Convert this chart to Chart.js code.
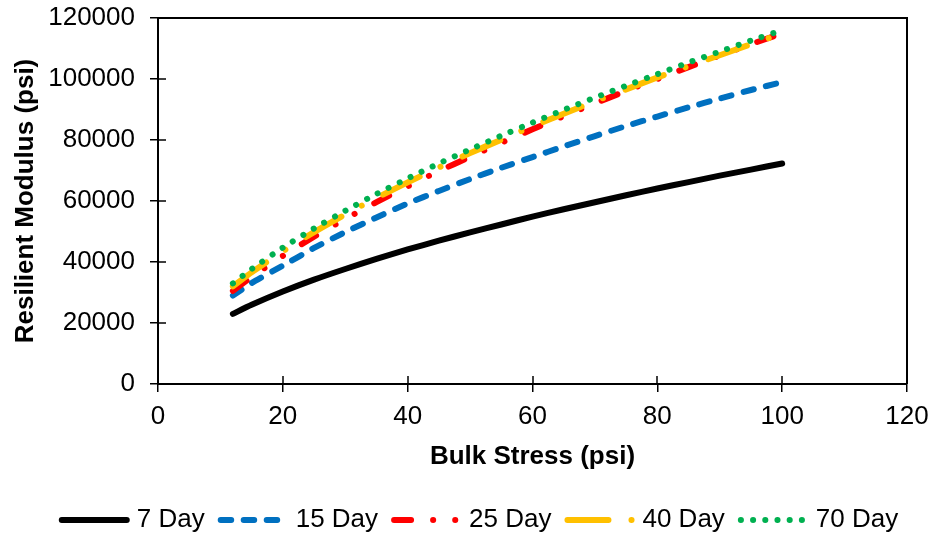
<!DOCTYPE html>
<html>
<head>
<meta charset="utf-8">
<script src="https://cdn.jsdelivr.net/npm/chart.js@4.4.1/dist/chart.umd.min.js"></script>
<style>
  html, body { margin: 0; padding: 0; background: #fff; }
  #wrap { width: 937px; height: 540px; }
</style>
</head>
<body>
<div id="wrap"><canvas id="chart"></canvas></div>
<script>
// bulk stress (psi) where the curves were read
const stress = [12, 15, 20, 25, 30, 35, 40, 45, 50, 55, 60, 65, 70, 75, 80, 85, 90, 95, 100];

// resilient modulus (psi)
const day7  = [23000, 25950, 30300, 34200, 37700, 41000, 44100, 47000, 49700, 52300, 54900, 57300, 59600, 61900, 64100, 66200, 68300, 70300, 72300];
const day15 = [29000, 33100, 38800, 44600, 49800, 54600, 59200, 63300, 67200, 70900, 74400, 77900, 81300, 84600, 87700, 90700, 93600, 96400, 99000];
const day25 = [30500, 35100, 42000, 48300, 54100, 59600, 64800, 69800, 74500, 79100, 83500, 87800, 92000, 96100, 100000, 103900, 107700, 111400, 115000];
const day40 = [32000, 36600, 43500, 49800, 55600, 61000, 66100, 71000, 75700, 80100, 84500, 88600, 92700, 96600, 100500, 104200, 107800, 111400, 114900];
const day70 = [33000, 37700, 44700, 51000, 56800, 62300, 67400, 72300, 76900, 81400, 85700, 89900, 93900, 97800, 101600, 105400, 109000, 112600, 116000];

const xTicks = [0, 20, 40, 60, 80, 100, 120];
const yTicks = [0, 20000, 40000, 60000, 80000, 100000, 120000];

const FONT = '"Liberation Sans", Arial, sans-serif';

function pts(ys) {
  return stress.map((x, i) => ({ x: x, y: ys[i] }));
}

function series(label, ys, color, dash, order) {
  return {
    label: label,
    data: pts(ys),
    borderColor: color,
    backgroundColor: color,
    borderWidth: 6,
    borderDash: dash,
    borderCapStyle: 'round',
    borderJoinStyle: 'round',
    pointRadius: 0,
    pointHoverRadius: 0,
    tension: 0.2,
    fill: false,
    order: order
  };
}

// Excel-like legend: line sample then text, centred under the chart
const legendRow = {
  id: 'legendRow',
  afterDraw(chart) {
    const ctx = chart.ctx;
    const sets = chart.data.datasets;
    const lineLen = 65, gapText = 10, gapItem = 16, y = 520;
    ctx.save();
    ctx.font = '26px ' + FONT;
    const widths = sets.map(d => ctx.measureText(d.label).width);
    const total = widths.reduce((s, w) => s + lineLen + gapText + w, 0) + gapItem * (sets.length - 1);
    let x = 480 - total / 2;
    sets.forEach((d, i) => {
      ctx.strokeStyle = d.borderColor;
      ctx.lineWidth = d.borderWidth;
      ctx.lineCap = 'round';
      ctx.setLineDash(d.borderDash);
      ctx.beginPath();
      ctx.moveTo(x, y);
      ctx.lineTo(x + lineLen, y);
      ctx.stroke();
      ctx.setLineDash([]);
      ctx.fillStyle = '#000';
      ctx.textAlign = 'left';
      ctx.textBaseline = 'middle';
      ctx.fillText(d.label, x + lineLen + gapText, y);
      x += lineLen + gapText + widths[i] + gapItem;
    });
    ctx.restore();
  }
};

// inner halves of the tick marks and the plot frame (top/right)
const frame = {
  id: 'frame',
  afterDraw(chart) {
    const { ctx, chartArea: a, scales: { x, y } } = chart;
    ctx.save();
    ctx.strokeStyle = '#000';
    ctx.lineWidth = 2;
    ctx.beginPath();
    ctx.moveTo(a.left, a.top);
    ctx.lineTo(a.right, a.top);
    ctx.lineTo(a.right, a.bottom);
    ctx.stroke();
    ctx.lineWidth = 1.5;
    ctx.beginPath();
    x.ticks.forEach(t => {
      const px = Math.round(x.getPixelForValue(t.value));
      ctx.moveTo(px, a.bottom);
      ctx.lineTo(px, a.bottom - 8);
    });
    y.ticks.forEach(t => {
      const py = Math.round(y.getPixelForValue(t.value));
      ctx.moveTo(a.left, py);
      ctx.lineTo(a.left + 8, py);
    });
    ctx.stroke();
    ctx.restore();
  }
};

new Chart(document.getElementById('chart'), {
  type: 'line',
  data: {
    datasets: [
      series('7 Day', day7, '#000000', [], 5),
      series('15 Day', day15, '#0070C0', [10.5, 12.5], 4),
      series('25 Day', day25, '#FF0000', [17, 22, 0.1, 22, 0.1, 22], 3),
      series('40 Day', day40, '#FFC000', [41, 23, 0.1, 24], 2),
      series('70 Day', day70, '#00B050', [0.1, 12.1], 1)
    ]
  },
  options: {
    responsive: true,
    maintainAspectRatio: false,
    animation: false,
    layout: { padding: { top: 18, right: 30, left: 0, bottom: 0 } },
    plugins: {
      tooltip: { enabled: false },
      legend: { display: false }
    },
    scales: {
      x: {
        type: 'linear',
        min: 0,
        max: 120,
        afterBuildTicks: s => { s.ticks = xTicks.map(v => ({ value: v })); },
        afterFit: s => { s.height = 156; s.paddingLeft = 0; s.paddingRight = 0; },
        border: { color: '#000', width: 2 },
        grid: { drawOnChartArea: false, drawTicks: true, tickLength: 8, color: '#000', lineWidth: 1.5 },
        ticks: { color: '#000', padding: 9, font: { family: FONT, size: 26 }, callback: v => String(v) },
        title: {
          display: true,
          text: 'Bulk Stress (psi)',
          color: '#000',
          font: { family: FONT, size: 26, weight: 'bold' },
          padding: { top: 0, bottom: 67.4 }
        }
      },
      y: {
        min: 0,
        max: 120000,
        afterBuildTicks: s => { s.ticks = yTicks.map(v => ({ value: v })); },
        afterFit: s => { s.width = 158; s.paddingTop = 0; s.paddingBottom = 0; },
        border: { color: '#000', width: 2 },
        grid: { drawOnChartArea: false, drawTicks: true, tickLength: 8, color: '#000', lineWidth: 1.5 },
        ticks: { color: '#000', padding: 15, font: { family: FONT, size: 26 }, callback: v => String(v) },
        title: {
          display: true,
          text: 'Resilient Modulus (psi)',
          color: '#000',
          font: { family: FONT, size: 26, weight: 'bold' },
          padding: { top: 10, bottom: 0 }
        }
      }
    }
  },
  plugins: [legendRow, frame]
});
</script>
</body>
</html>
